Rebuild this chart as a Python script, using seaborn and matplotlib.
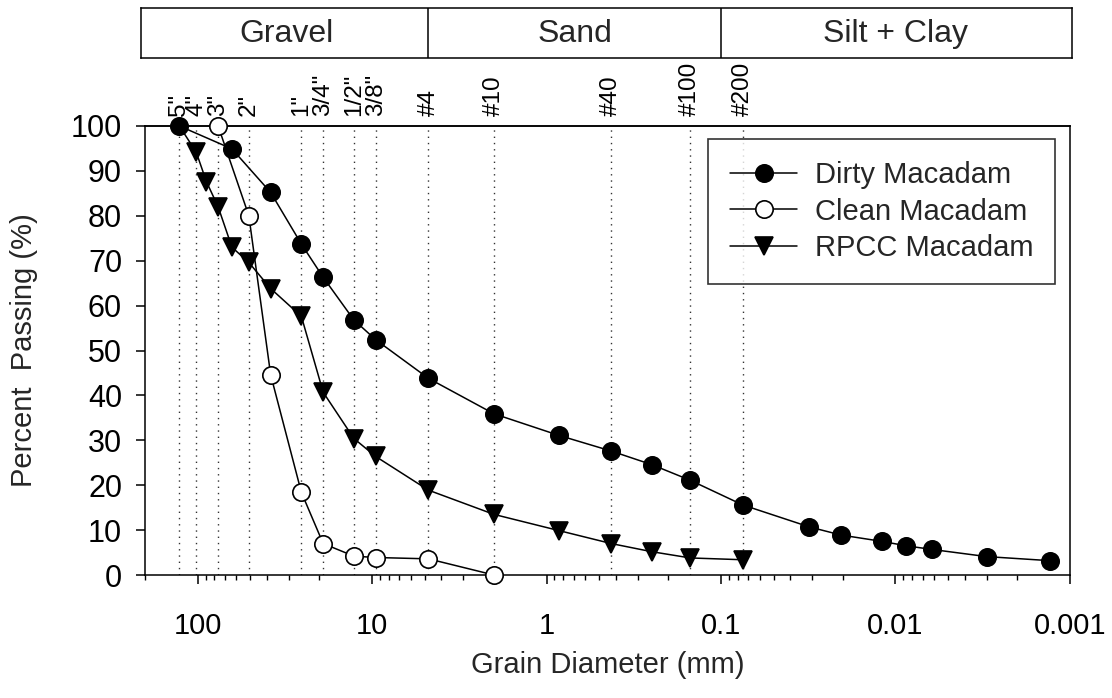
import numpy as np
import pandas as pd
import matplotlib
matplotlib.use("Agg")
import matplotlib.pyplot as plt
import matplotlib.transforms as mtransforms
from matplotlib.ticker import NullFormatter, NullLocator
import seaborn as sns

# sieve openings (mm) and their names for the top labels
sieve_mm = [127, 101.6, 76.2, 50.8, 25.4, 19.05, 12.7, 9.525, 4.75, 2.0, 0.425, 0.15, 0.075]
sieve_names = ['5"', '4"', '3"', '2"', '1"', '3/4"', '1/2"', '3/8"', '#4', '#10', '#40', '#100', '#200']

# grain size curves (mm, % passing)
dirty_mm = [127, 63.5, 38.1, 25.4, 19.05, 12.7, 9.525, 4.75, 2.0, 0.85, 0.425, 0.25, 0.15, 0.075,
            0.0311, 0.0205, 0.0120, 0.00865, 0.0062, 0.0030, 0.00131]
dirty_pass = [100, 94.9, 85.2, 73.7, 66.3, 56.8, 52.4, 43.8, 35.9, 31.1, 27.6, 24.6, 21.1, 15.6,
              10.7, 8.9, 7.5, 6.5, 5.7, 4.1, 3.2]

clean_mm = [76.2, 50.8, 38.1, 25.4, 19.05, 12.7, 9.525, 4.75, 2.0]
clean_pass = [100, 80.0, 44.6, 18.4, 7.0, 4.2, 3.9, 3.6, 0]

rpcc_mm = [127, 101.6, 88.9, 76.2, 63.5, 50.8, 38.1, 25.4, 19.05, 12.7, 9.525, 4.75, 2.0,
           0.85, 0.425, 0.25, 0.15, 0.075]
rpcc_pass = [100, 94.1, 87.6, 82.0, 73.0, 69.6, 63.8, 57.6, 40.7, 30.4, 26.4, 18.9, 13.5,
             9.9, 7.0, 5.2, 3.8, 3.4]

x_ticks = [100, 10, 1, 0.1, 0.01, 0.001]
x_ticklabels = ["100", "10", "1", "0.1", "0.01", "0.001"]
y_ticks = list(range(0, 101, 10))

zones = ["Gravel", "Sand", "Silt + Clay"]
zone_edges = [200, 4.75, 0.1, 0.001]

sns.set_theme(style="ticks")
plt.rcParams["font.family"] = ["Liberation Sans", "DejaVu Sans"]
plt.rcParams["axes.edgecolor"] = "black"
plt.rcParams["axes.linewidth"] = 1.1
plt.rcParams["xtick.color"] = "black"
plt.rcParams["ytick.color"] = "black"

fs = 21
fig = plt.figure(figsize=(11.12, 6.98), dpi=100)
ax = fig.add_axes([0.1304, 0.1762, 0.8318, 0.6433])

# sieve guide lines
for s in sieve_mm:
    ax.axvline(s, color="0.2", ls=(0, (1, 3.5)), lw=1.0, zorder=0)

common = dict(color="black", lw=1.1, markersize=12.5, markeredgecolor="black",
              markeredgewidth=1.2, sort=False, errorbar=None, clip_on=False, ax=ax)
sns.lineplot(x=dirty_mm, y=dirty_pass, marker="o", markerfacecolor="black",
             label="Dirty Macadam", zorder=4, **common)
sns.lineplot(x=clean_mm, y=clean_pass, marker="o", markerfacecolor="white",
             label="Clean Macadam", zorder=3, **common)
sns.lineplot(x=rpcc_mm, y=rpcc_pass, marker="v", markerfacecolor="black",
             markevery=slice(1, None), label="RPCC Macadam", zorder=2, **common)

ax.set_xscale("log")
ax.set_xlim(200, 0.001)
ax.set_ylim(0, 100)
ax.set_xticks(x_ticks, labels=x_ticklabels)
ax.xaxis.set_minor_formatter(NullFormatter())
ax.set_yticks(y_ticks)
ax.tick_params(axis="both", which="major", direction="out", length=6.5, width=1.1,
               labelsize=fs, colors="black")
ax.tick_params(axis="x", which="major", pad=20)
ax.tick_params(axis="y", which="major", pad=10, labelsize=22)
ax.tick_params(axis="x", which="minor", direction="out", length=3.5, width=1.0)
ax.set_xlabel("Grain Diameter (mm)", fontsize=fs, labelpad=8)
ax.set_ylabel("Percent  Passing (%)", fontsize=fs, labelpad=24)
for sp in ax.spines.values():
    sp.set_visible(True)
    sp.set_color("black")
    sp.set_linewidth(1.1)

# sieve names along the top
top = ax.secondary_xaxis("top")
top.set_xticks(sieve_mm, labels=sieve_names)
top.xaxis.set_minor_locator(NullLocator())
top.tick_params(axis="x", which="both", length=0, pad=7, labelsize=17.5, labelrotation=90)

leg = ax.legend(loc="upper right", bbox_to_anchor=(0.9838, 0.971), borderaxespad=0,
                frameon=True, fancybox=False, edgecolor="black", fontsize=fs,
                handlelength=2.3, handletextpad=0.6, labelspacing=0.3, borderpad=0.75)
leg.get_frame().set_linewidth(1.2)

# soil classification band
box = fig.add_axes([0.1268, 0.9169, 0.8372, 0.0716])
box.set_xticks([])
box.set_yticks([])
for sp in box.spines.values():
    sp.set_color("black")
    sp.set_linewidth(1.1)
band = mtransforms.blended_transform_factory(ax.transData, box.transAxes)
for e in zone_edges[1:-1]:
    box.plot([e, e], [0, 1], color="black", lw=1.1, transform=band)
for name, lo, hi in zip(zones, zone_edges[:-1], zone_edges[1:]):
    box.text(np.sqrt(lo * hi), 0.48, name, ha="center", va="center", fontsize=23,
             transform=band)

plt.savefig("out.png", dpi=100)
